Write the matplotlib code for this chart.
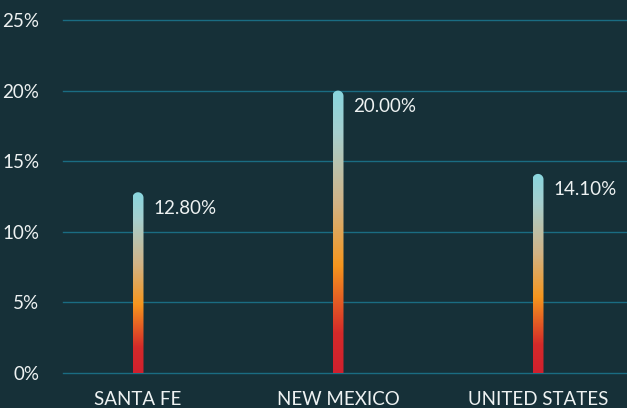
import numpy as np
import matplotlib
matplotlib.use('Agg')
import matplotlib.pyplot as plt
from matplotlib.colors import LinearSegmentedColormap
from matplotlib.path import Path
from matplotlib.patches import PathPatch

categories = ['SANTA FE', 'NEW MEXICO', 'UNITED STATES']
values = [12.8, 20.0, 14.1]
labels = ['12.80%', '20.00%', '14.10%']
yticks = [0, 5, 10, 15, 20, 25]

bg = '#163038'
grid_col = '#1a6c82'
text_col = '#eef2f2'

plt.rcParams['font.family'] = ['Lato', 'DejaVu Sans']

fig = plt.figure(figsize=(6.27, 4.08), dpi=100, facecolor=bg)
ax = fig.add_axes([63 / 627, 35 / 408, 564 / 627, 353 / 408], facecolor=bg)
ax.set_xlim(-0.375, 2.445)
ax.set_ylim(0, 25)

for t in yticks:
    ax.axhline(t, color=grid_col, lw=1, zorder=1, clip_on=False)

cmap = LinearSegmentedColormap.from_list('bar', [
    (0.0, '#d0202e'),
    (0.14, '#d42a2a'),
    (0.38, '#f5961e'),
    (0.6, '#d2b385'),
    (0.85, '#a6cfcf'),
    (1.0, '#88d6df'),
])
grad = np.linspace(0, 1, 256).reshape(-1, 1)

# bar width and top cap radius in data units
px_x = 2.82 / 564
px_y = 25 / 353
w = 11 * px_x
ry = 5.5 * px_y

for i, v in enumerate(values):
    x0, x1 = i - w / 2, i + w / 2
    th = np.linspace(np.pi, 0, 30)
    cap = np.column_stack([i + (w / 2) * np.cos(th), v - ry + ry * np.sin(th)])
    verts = np.vstack([[x0, 0], [x0, v - ry], cap, [x1, 0], [x0, 0]])
    codes = [Path.MOVETO] + [Path.LINETO] * (len(verts) - 2) + [Path.CLOSEPOLY]
    patch = PathPatch(Path(verts, codes), transform=ax.transData, fc='none', ec='none')
    ax.add_patch(patch)
    im = ax.imshow(grad, cmap=cmap, origin='lower', aspect='auto',
                   extent=[x0, x1, 0, v], zorder=3, interpolation='bilinear')
    im.set_clip_path(patch)
    ax.annotate(labels[i], (i, v), xytext=(15, -16), textcoords='offset pixels',
                color=text_col, fontsize=13.5, va='center', ha='left')

ax.set_xlim(-0.375, 2.445)
ax.set_ylim(0, 25)
ax.set_yticks(yticks)
ax.set_yticklabels([f'{t}%' for t in yticks])
ax.set_xticks(range(len(categories)))
ax.set_xticklabels(categories)
ax.tick_params(axis='both', length=0, colors=text_col, labelsize=13.5)
ax.tick_params(axis='y', pad=17)
ax.tick_params(axis='x', pad=13)
for s in ax.spines.values():
    s.set_visible(False)

fig.savefig('out.png', dpi=100, facecolor=bg)
